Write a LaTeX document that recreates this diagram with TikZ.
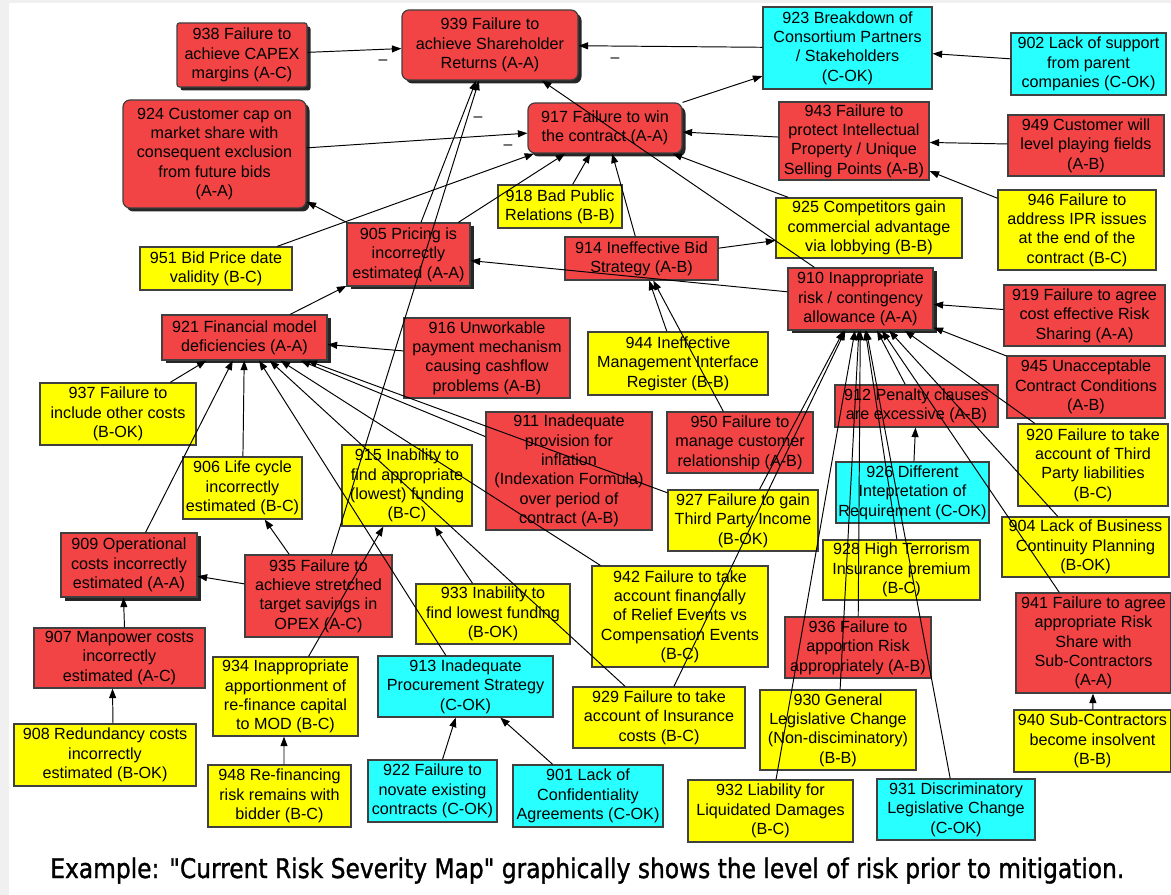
\documentclass[tikz,border=0pt]{standalone}
\usepackage{graphicx}
\usepackage{fontspec}
\setmainfont{Liberation Sans}
\newfontfamily\capfont[FakeBold=1.3]{DejaVu Sans}
\usetikzlibrary{arrows.meta,shadows}
\definecolor{cRed}{RGB}{242,68,68}
\definecolor{cYel}{RGB}{255,255,0}
\definecolor{cCyan}{RGB}{40,255,255}
\tikzset{
  box/.style={draw=black!75, line width=0.7pt, inner sep=0pt, align=center,
              font=\fontsize{9.2}{11}\selectfont, text=black},
  redbox/.style={box, fill=cRed},
  yelbox/.style={box, fill=cYel},
  cyanbox/.style={box, fill=cCyan},
  shad/.style={drop shadow={shadow xshift=0.07cm, shadow yshift=-0.07cm, fill=black!85, opacity=1}},
  rnd/.style={rounded corners=0.14cm},
  rndsmall/.style={rounded corners=0.05cm},
  arr/.style={-{Triangle[length=0.19cm,width=0.14cm]}, line width=0.55pt, draw=black},
  minus/.style={font=\fontsize{9}{9}\selectfont, inner sep=0pt}
}
\newcommand\bx[7]{\node[#6, minimum width={(#4-#2)*0.02cm}, minimum height={(#5-#3)*0.02cm}] (#1) at ({(#2+#4)/2},{(#3+#5)/2}) {#7};}
\begin{document}
\begin{tikzpicture}[x=0.02cm, y=-0.02cm]
\useasboundingbox (0,0) rectangle (1171,895);
\fill[black!6] (0,0) rectangle (1171,895);
\fill[white] (9,3) rectangle (1171,895);

\bx{n938}{177}{23}{307}{87}{redbox,shad,rndsmall}{938 Failure to\\achieve CAPEX\\margins (A-C)}
\bx{n939}{402}{10}{578}{80}{redbox,shad,rnd}{939 Failure to\\achieve Shareholder\\Returns (A-A)}
\bx{n923}{763}{7}{932}{89}{cyanbox}{923 Breakdown of\\Consortium Partners\\/ Stakeholders\\(C-OK)}
\bx{n902}{1011}{33}{1166}{95}{cyanbox}{902 Lack of support\\from parent\\companies (C-OK)}
\bx{n924}{123}{100}{306}{208}{redbox,shad,rnd}{924 Customer cap on\\market share with\\consequent exclusion\\from future bids\\(A-A)}
\bx{n917}{528}{103}{682}{153}{redbox,shad,rnd}{917 Failure to win\\the contract (A-A)}
\bx{n943}{779}{102}{929}{180}{redbox}{943 Failure to\\protect Intellectual\\Property / Unique\\Selling Points (A-B)}
\bx{n949}{1008}{115}{1164}{176}{redbox}{949 Customer will\\level playing fields\\(A-B)}
\bx{n918}{498}{185}{622}{228}{yelbox}{918 Bad Public\\Relations (B-B)}
\bx{n925}{776}{198}{962}{258}{yelbox}{925 Competitors gain\\commercial advantage\\via lobbying (B-B)}
\bx{n946}{998}{190}{1156}{270}{yelbox}{946 Failure to\\address IPR issues\\at the end of the\\contract (B-C)}
\bx{n951}{140}{247}{292}{290}{yelbox}{951 Bid Price date\\validity (B-C)}
\bx{n905}{347}{223}{470}{286}{redbox,shad}{905 Pricing is\\incorrectly\\estimated (A-A)}
\bx{n914}{565}{237}{718}{280}{redbox}{914 Ineffective Bid\\Strategy (A-B)}
\bx{n910}{788}{268}{933}{330}{redbox,shad}{910 Inappropriate\\risk / contingency\\allowance (A-A)}
\bx{n919}{1004}{285}{1165}{346}{redbox}{919 Failure to agree\\cost effective Risk\\Sharing (A-A)}
\bx{n921}{162}{315}{327}{360}{redbox,shad}{921 Financial model\\deficiencies (A-A)}
\bx{n916}{404}{318}{570}{398}{redbox}{916 Unworkable\\payment mechanism\\causing cashflow\\problems (A-B)}
\bx{n944}{588}{332}{768}{395}{yelbox}{944 Ineffective\\Management Interface\\Register (B-B)}
\bx{n945}{1007}{356}{1165}{418}{redbox}{945 Unacceptable\\Contract Conditions\\(A-B)}
\bx{n937}{40}{383}{196}{445}{yelbox}{937 Failure to\\include other costs\\(B-OK)}
\bx{n912}{835}{385}{998}{427}{redbox}{912 Penalty clauses\\are excessive (A-B)}
\bx{n911}{486}{412}{652}{530}{redbox}{911 Inadequate\\provision for\\inflation\\(Indexation Formula)\\over period of\\contract (A-B)}
\bx{n950}{667}{412}{813}{473}{redbox}{950 Failure to\\manage customer\\relationship (A-B)}
\bx{n920}{1018}{424}{1168}{506}{yelbox}{920 Failure to take\\account of Third\\Party liabilities\\(B-C)}
\bx{n906}{183}{457}{302}{519}{yelbox}{906 Life cycle\\incorrectly\\estimated (B-C)}
\bx{n915}{342}{445}{472}{526}{yelbox}{915 Inability to\\find appropriate\\(lowest) funding\\(B-C)}
\bx{n926}{836}{462}{989}{523}{cyanbox}{926 Different\\Intepretation of\\Requirement (C-OK)}
\bx{n927}{668}{490}{818}{551}{yelbox}{927 Failure to gain\\Third Party Income\\(B-OK)}
\bx{n904}{1002}{517}{1169}{577}{yelbox}{904 Lack of Business\\Continuity Planning\\(B-OK)}
\bx{n909}{61}{533}{197}{597}{redbox,shad}{909 Operational\\costs incorrectly\\estimated (A-A)}
\bx{n935}{245}{555}{392}{637}{redbox}{935 Failure to\\achieve stretched\\target savings in\\OPEX (A-C)}
\bx{n928}{823}{540}{980}{600}{yelbox}{928 High Terrorism\\Insurance premium\\(B-C)}
\bx{n942}{592}{566}{768}{667}{yelbox}{942 Failure to take\\account financially\\of Relief Events vs\\Compensation Events\\(B-C)}
\bx{n933}{416}{584}{570}{644}{yelbox}{933 Inability to\\find lowest funding\\(B-OK)}
\bx{n941}{1016}{593}{1171}{693}{redbox}{941 Failure to agree\\appropriate Risk\\Share with\\Sub-Contractors\\(A-A)}
\bx{n907}{34}{628}{205}{688}{redbox}{907 Manpower costs\\incorrectly\\estimated (A-C)}
\bx{n936}{785}{617}{931}{678}{redbox}{936 Failure to\\apportion Risk\\appropriately (A-B)}
\bx{n934}{213}{657}{358}{736}{yelbox}{934 Inappropriate\\apportionment of\\re-finance capital\\to MOD (B-C)}
\bx{n913}{378}{656}{553}{717}{cyanbox}{913 Inadequate\\Procurement Strategy\\(C-OK)}
\bx{n929}{573}{687}{745}{748}{yelbox}{929 Failure to take\\account of Insurance\\costs (B-C)}
\bx{n930}{760}{690}{916}{770}{yelbox}{930 General\\Legislative Change\\(Non-disciminatory)\\(B-B)}
\bx{n940}{1014}{710}{1171}{772}{yelbox}{940 Sub-Contractors\\become insolvent\\(B-B)}
\bx{n908}{14}{724}{196}{786}{yelbox}{908 Redundancy costs\\incorrectly\\estimated (B-OK)}
\bx{n948}{208}{765}{351}{827}{yelbox}{948 Re-financing\\risk remains with\\bidder (B-C)}
\bx{n922}{368}{760}{497}{822}{cyanbox}{922 Failure to\\novate existing\\contracts (C-OK)}
\bx{n901}{513}{765}{663}{827}{cyanbox}{901 Lack of\\Confidentiality\\Agreements (C-OK)}
\bx{n932}{688}{780}{853}{842}{yelbox}{932 Liability for\\Liquidated Damages\\(B-C)}
\bx{n931}{877}{779}{1035}{840}{cyanbox}{931 Discriminatory\\Legislative Change\\(C-OK)}

% connectors
\draw[arr] (n938) -- (n939);
\draw[arr] (n923) -- (n939);
\draw[arr] (n902) -- (n923);
\draw[arr] (n917) -- (n923);
\draw[arr] (n924) -- (n917);
\draw[arr] (n910) -- (n939);
\draw[arr] (n905) -- (n939);
\draw[arr] (n935) -- (n939);
\draw[arr] (n943) -- (n917);
\draw[arr] (n925) -- (n917);
\draw[arr] (n918) -- (n917);
\draw[arr] (n914) -- (n917);
\draw[arr] (n905) -- (n917);
\draw[arr] (n951) -- (n917);
\draw[arr] (n905) -- (n924);
\draw[arr] (n921) -- (n905);
\draw[arr] (n910) -- (n905);
\draw[arr] (n914) -- (n925);
\draw[arr] (n944) -- (n914);
\draw[arr] (n950) -- (n914);
\draw[arr] (n949) -- (n943);
\draw[arr] (n946) -- (n943);
\draw[arr] (n919) -- (n910);
\draw[arr] (n945) -- (n910);
\draw[arr] (n920) -- (n910);
\draw[arr] (n904) -- (n910);
\draw[arr] (n941) -- (n910);
\draw[arr] (n912) -- (n910);
\draw[arr] (n928) -- (n910);
\draw[arr] (n931) -- (n910);
\draw[arr] (n936) -- (n910);
\draw[arr] (n930) -- (n910);
\draw[arr] (n932) -- (n910);
\draw[arr] (n929) -- (n910);
\draw[arr] (n927) -- (n910);
\draw[arr] (n926) -- (n912);
\draw[arr] (n940) -- (n941);
\draw[arr] (n916) -- (n921);
\draw[arr] (n937) -- (n921);
\draw[arr] (n909) -- (n921);
\draw[arr] (n906) -- (n921);
\draw[arr] (n913) -- (n921);
\draw[arr] (n911) -- (n921);
\draw[arr] (n942) -- (n921);
\draw[arr] (n927) -- (n921);
\draw[arr] (n929) -- (n921);
\draw[arr] (n935) -- (n906);
\draw[arr] (n935) -- (n909);
\draw[arr] ([xshift=0.1cm]n907.north) -- ([xshift=-0.11cm]n909.south);
\draw[arr] ([xshift=0.16cm]n908.north) -- ([xshift=-0.14cm]n907.south);
\draw[arr] ([xshift=0.09cm]n948.north) -- ([xshift=-0.03cm]n934.south);
\draw[arr] (n934) -- (n915);
\draw[arr] (n933) -- (n915);
\draw[arr] (n922) -- (n913);
\draw[arr] (n901) -- (n913);

% polarity marks
\node[minus] (m1) at (383,62) {–};
\node[minus] (m2) at (478,119) {–};
\node[minus] (m3) at (508,147) {–};
\node[minus] (m4) at (615,60) {–};

% caption
\node[anchor=base west, inner sep=0pt] (cap) at (50,878)
  {\resizebox{21.48cm}{1.1\height}{\fontsize{14}{14}\capfont Example: "Current Risk Severity Map" graphically shows the level of risk prior to mitigation.}};
\end{tikzpicture}
\end{document}
